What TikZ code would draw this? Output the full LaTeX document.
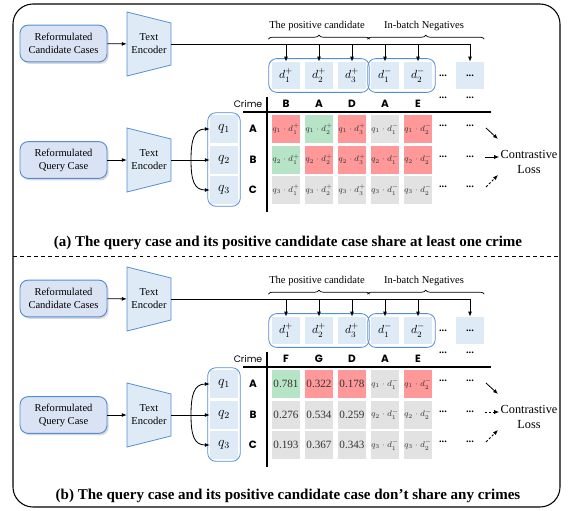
\documentclass[tikz,border=0pt]{standalone}
\usepackage{fontspec}
\setmainfont{Liberation Serif}
\newfontfamily\crimefont{Poppins}
\usetikzlibrary{arrows.meta,shadows,fit,decorations.pathreplacing}

\definecolor{caseblue}{RGB}{218,227,243}
\definecolor{edgeblue}{RGB}{84,141,212}
\definecolor{embblue}{RGB}{222,235,247}
\definecolor{simred}{RGB}{255,153,153}
\definecolor{simgreen}{RGB}{183,228,199}
\definecolor{simgray}{RGB}{226,226,226}

\tikzstyle{casebox} = [draw=edgeblue, line width=0.8pt, fill=caseblue, rounded corners=2.4mm, minimum width=26.1mm, minimum height=11mm, align=center, font=\small, drop shadow={shadow xshift=0.5mm, shadow yshift=-0.6mm, opacity=0.3}]
\tikzstyle{encshape} = [draw=edgeblue, line width=0.7pt, fill=embblue]
\tikzstyle{enctext} = [minimum width=13.2mm, minimum height=12mm, inner sep=0pt, align=center, font=\small]
\tikzstyle{emb} = [fill=embblue, minimum width=8.4mm, minimum height=8.2mm, inner sep=0pt]
\tikzstyle{grp} = [draw=edgeblue, line width=0.7pt, rounded corners=2.4mm, inner sep=0.9mm]
\tikzstyle{cell} = [minimum width=8.4mm, minimum height=8.4mm, inner sep=0pt, font=\fontsize{7.4}{9}\selectfont, text=black!80]
\tikzstyle{num} = [cell, font=\fontsize{9.5}{11}\selectfont]
\tikzstyle{crime} = [font=\crimefont\bfseries\small]
\tikzstyle{ellip} = [font=\small\bfseries, inner sep=1pt]
\tikzstyle{arr} = [line width=0.7pt, -{Latex[length=1.5mm,width=1.2mm]}]
\tikzstyle{dasharr} = [arr, dash pattern=on 2pt off 1.5pt]
\tikzstyle{brace} = [decorate, decoration={brace, amplitude=1.2mm}, line width=0.6pt]
\tikzstyle{caption} = [font=\bfseries\fontsize{12.8}{14}\selectfont]

\newcommand{\qd}[3]{$q_{#1}\cdot d_{#2}^{#3}$}

\begin{document}
\begin{tikzpicture}[x=0.3mm,y=-0.3mm]
\useasboundingbox (0,0) rectangle (569,510);
\draw[line width=0.9pt, rounded corners=6mm] (13,4) rectangle (560,507);
\draw[dashed, line width=0.6pt] (13,256) -- (560,256);

\foreach \p/\dy in {a/0,b/255}{
\begin{scope}[shift={(0,\dy)}]
\node[casebox] (\p cand) at (63.5,43.5) {Reformulated\\Candidate Cases};
\node[casebox] (\p query) at (63.5,160) {Reformulated\\Query Case};
\draw[encshape] (127,12) -- (171,23) -- (171,65) -- (127,76) -- cycle;
\draw[encshape] (127,128) -- (171,139) -- (171,181) -- (127,192) -- cycle;
\node[enctext] (\p encc) at (149,44) {Text\\Encoder};
\node[enctext] (\p encq) at (149,160) {Text\\Encoder};
\draw[arr] (\p cand) -- (\p encc);
\draw[arr] (\p query) -- (\p encq);

\node[emb] (\p d1) at (286,75.5) {$d_1^+$};
\node[emb] (\p d2) at (319,75.5) {$d_2^+$};
\node[emb] (\p d3) at (352,75.5) {$d_3^+$};
\node[emb] (\p d4) at (385,75.5) {$d_1^-$};
\node[emb] (\p d5) at (418,75.5) {$d_2^-$};
\node[ellip] (\p ddots) at (443,76) {...};
\node[emb, font=\small\bfseries] (\p d6) at (470,75.5) {...};
\node[grp, fit=(\p d1)(\p d3)] (\p gpos) {};
\node[grp, fit=(\p d4)(\p d5)] (\p gneg) {};
\draw[line width=0.7pt] (\p encc.east) -- (\p encc.east -| \p d6.north);
\foreach \k in {1,...,6} \draw[arr] (\p encc.east -| \p d\k.north) -- (\p d\k.north);
\draw[brace] ([yshift=5.7mm]\p gpos.north west) -- ([yshift=5.7mm]\p gpos.north east);
\draw[brace] ([yshift=5.7mm]\p gneg.north west) -- ([yshift=5.7mm]\p gneg.north -| \p d6.east);
\node[font=\small] (\p lpos) at (317,26) {The positive candidate};
\node[font=\small] (\p lneg) at (424,26) {In-batch Negatives};

\node[font=\crimefont\footnotesize] (\p crime) at (248,104) {Crime};
\draw[line width=0.9pt] (243,112) -- (491,112);
\draw[line width=0.9pt] (267,97) -- (267,212);
\node[ellip] (\p hdots1) at (443,98) {...};
\node[ellip] (\p hdots2) at (470,98) {...};
\foreach \r/\l/\y in {1/A/129,2/B/160,3/C/190}{
  \node[crime] (\p row\r) at (253,\y) {\l};
  \node[emb, minimum height=8.4mm, font=\large] (\p q\r) at (224,\y) {$q_\r$};
  \node[ellip] (\p rdots\r x) at (443,\y-3) {...};
  \node[ellip] (\p rdots\r y) at (470,\y-3) {...};
}
\node[grp, fit=(\p q1)(\p q3), inner sep=0.6mm] (\p gq) {};
\coordinate (\p jn) at (191,160);
\draw[arr] (\p encq) -- (\p q2);
\draw[arr] (\p jn) .. controls (191,140) and (194,129) .. (\p q1.west);
\draw[arr] (\p jn) .. controls (191,180) and (194,190) .. (\p q3.west);

\node[font=\fontsize{10.5}{12}\selectfont, align=center, inner sep=1pt] (\p loss) at (529,162) {Contrastive\\Loss};
\coordinate (\p ta) at (486,128);
\coordinate (\p tb) at (498,139);
\coordinate (\p ba) at (486,187);
\coordinate (\p bb) at (498,175);
\coordinate (\p ma) at (485,157);
\draw[arr] (\p ta) -- (\p tb);
\draw[dasharr] (\p ba) -- (\p bb);
\end{scope}
}

\foreach \c/\l in {1/B,2/A,3/D,4/A,5/E} \node[crime] (ah\c) at ({253+33*\c},104) {\l};
\foreach \r/\c/\col/\txt in {1/1/simred/\qd11+, 1/2/simgreen/\qd12+, 1/3/simred/\qd13+, 1/4/simgray/\qd11-, 1/5/simred/\qd12-,
  2/1/simgreen/\qd21+, 2/2/simred/\qd22+, 2/3/simred/\qd23+, 2/4/simred/\qd21-, 2/5/simred/\qd22-,
  3/1/simgray/\qd31+, 3/2/simgray/\qd32+, 3/3/simgray/\qd33+, 3/4/simgray/\qd31-, 3/5/simgray/\qd32-}
  \node[cell, fill=\col] (a\r\c) at ({253+33*\c},{98.5+30.5*\r}) {\txt};
\draw[arr] (ama) -- (aloss.west |- ama);
\node[caption] (acap) at (288,243) {(a) The query case and its positive candidate case share at least one crime};

\begin{scope}[shift={(0,255)}]
\foreach \c/\l in {1/F,2/G,3/D,4/A,5/E} \node[crime] (bh\c) at ({253+33*\c},104) {\l};
\foreach \r/\c/\col/\txt in {1/1/simgreen/0.781, 1/2/simred/0.322, 1/3/simred/0.178,
  2/1/simgray/0.276, 2/2/simgray/0.534, 2/3/simgray/0.259,
  3/1/simgray/0.193, 3/2/simgray/0.367, 3/3/simgray/0.343}
  \node[num, fill=\col] (b\r\c) at ({253+33*\c},{98.5+30.5*\r}) {\txt};
\foreach \r/\c/\col/\txt in {1/4/simgray/\qd11-, 1/5/simred/\qd12-,
  2/4/simgray/\qd21-, 2/5/simgray/\qd22-, 3/4/simgray/\qd31-, 3/5/simgray/\qd32-}
  \node[cell, fill=\col] (b\r\c) at ({253+33*\c},{98.5+30.5*\r}) {\txt};
\end{scope}
\draw[dasharr] (bma) -- (bloss.west |- bma);
\node[caption] (bcap) at (288,496) {(b) The query case and its positive candidate case don't share any crimes};
\end{tikzpicture}
\end{document}
